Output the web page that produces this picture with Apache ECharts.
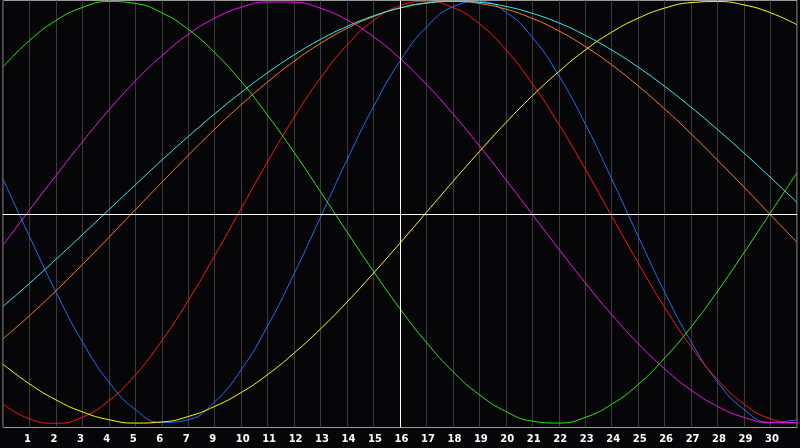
<!DOCTYPE html>
<html>
<head>
<meta charset="utf-8">
<script src="https://cdn.jsdelivr.net/npm/echarts@6/dist/echarts.min.js"></script>
<style>
html,body{margin:0;padding:0;background:#060608;}
#c{width:800px;height:448px;}
</style>
</head>
<body>
<div id="c"></div>
<script>
// Day index (0..30) across the plot
var days = [0,1,2,3,4,5,6,7,8,9,10,11,12,13,14,15,16,17,18,19,20,21,22,23,24,25,26,27,28,29,30];
// Tick labels shown under grid lines 1..29 (index = day index)
var tickLabels = ['', '1','2','3','4','5','6','7','9','10','11','12','13','14','15','16','17','18','19','20','21','22','23','24','25','26','27','28','29','30', ''];

// Curve values in percent (-100..100), read at each day index
var blueVals    = [15.8,-11.4,-37.8,-61.4,-80.4,-93.5,-99.6,-98.3,-89.8,-74.6,-53.8,-29.1,-2.2,24.9,50.1,71.6,87.8,97.4,99.9,94.9,82.9,64.8,41.9,15.8,-11.4,-37.8,-61.4,-80.4,-93.5,-99.6,-98.3];
var redVals     = [-90.9,-97.9,-100.0,-97.1,-89.3,-77.1,-60.9,-41.8,-20.5,1.8,24.0,45.0,63.7,79.3,90.9,97.9,100.0,97.1,89.3,77.1,60.9,41.8,20.5,-1.8,-24.0,-45.0,-63.7,-79.3,-90.9,-97.9,-100.0];
var greenVals   = [68.9,81.4,90.9,97.1,99.9,99.0,94.6,86.7,75.7,62.0,46.0,28.4,9.7,-9.3,-28.0,-45.7,-61.7,-75.5,-86.5,-94.4,-99.0,-99.9,-97.2,-91.0,-81.6,-69.1,-54.3,-37.4,-19.1,-0.2,18.7];
var magentaVals = [-15.5,1.0,17.4,33.4,48.5,62.2,74.2,84.3,92.0,97.2,99.7,99.6,96.7,91.2,83.2,72.9,60.6,46.7,31.5,15.5,-1.0,-17.4,-33.4,-48.5,-62.2,-74.2,-84.3,-92.0,-97.2,-99.7,-99.6];
var yellowVals  = [-72.0,-81.3,-88.9,-94.6,-98.3,-99.9,-99.4,-96.8,-92.0,-85.4,-76.9,-66.7,-55.2,-42.5,-28.8,-14.6,0.0,14.6,28.8,42.5,55.2,66.7,76.9,85.4,92.0,96.8,99.4,99.9,98.3,94.6,88.9];
var orangeVals  = [-59.9,-49.0,-37.2,-24.8,-11.9,1.2,14.2,27.0,39.4,51.0,61.8,71.6,80.1,87.2,92.8,96.9,99.3,100.0,99.0,96.3,91.9,86.0,78.6,69.9,59.9,49.0,37.2,24.7,11.9,-1.2,-14.2];
var cyanVals    = [-44.6,-33.7,-22.3,-10.6,1.2,13.0,24.7,35.9,46.7,56.8,66.2,74.6,82.0,88.1,93.1,96.8,99.1,100.0,99.5,97.6,94.3,89.8,83.9,76.9,68.8,59.7,49.8,39.2,28.1,16.5,4.7];

function pairs(vals){ return days.map(function(d,i){ return [d, vals[i]]; }); }

var curves = [
  {name:'blue', color:'#1a6eff', vals: blueVals},
  {name:'red', color:'#ff1010', vals: redVals},
  {name:'green', color:'#22ee00', vals: greenVals},
  {name:'magenta', color:'#f010f0', vals: magentaVals},
  {name:'orange', color:'#ff8010', vals: orangeVals},
  {name:'cyan', color:'#30f0f0', vals: cyanVals},
  {name:'yellow', color:'#ffff00', vals: yellowVals}
];

var series = curves.map(function(c){
  return {
    name: c.name, type:'line', data: pairs(c.vals), smooth: 0.5, showSymbol:false,
    symbol:'none', lineStyle:{color:c.color, width:1}, silent:true, animation:false, z: 3
  };
});
series.push({
  type:'line', data:[], silent:true, animation:false, z:2,
  markLine:{
    silent:true, symbol:['none','none'], label:{show:false}, animation:false,
    lineStyle:{color:'#ffffff', width:1, type:'solid'},
    data:[{xAxis:15},{yAxis:-0.8}]
  }
});

var chart = echarts.init(document.getElementById('c'));
chart.setOption({
  backgroundColor:'#060608',
  animation:false,
  grid:{left:0.5, top:0.5, width:799, height:427, show:true, borderColor:'#9a9a9a', borderWidth:1, backgroundColor:'transparent'},
  xAxis:{type:'value', min:0, max:30, interval:1,
     axisLine:{show:false}, axisTick:{show:false},
     splitLine:{show:true, lineStyle:{color:'#3a3a3a', width:1}},
     axisLabel:{show:true, align:'center', margin:7,
       formatter:function(v){ var i = Math.round(v); var t = tickLabels[i] || ''; return t ? '{a|' + t + '}' : ''; },
       rich:{a:{width:11, align:'left', color:'#ffffff', fontSize:10, fontWeight:'bold', fontFamily:'DejaVu Sans'}}}},
  yAxis:{type:'value', min:-102.0, max:100.4,
     axisLine:{show:false}, axisTick:{show:false}, axisLabel:{show:false}, splitLine:{show:false}},
  series: series
});
</script>
</body>
</html>
